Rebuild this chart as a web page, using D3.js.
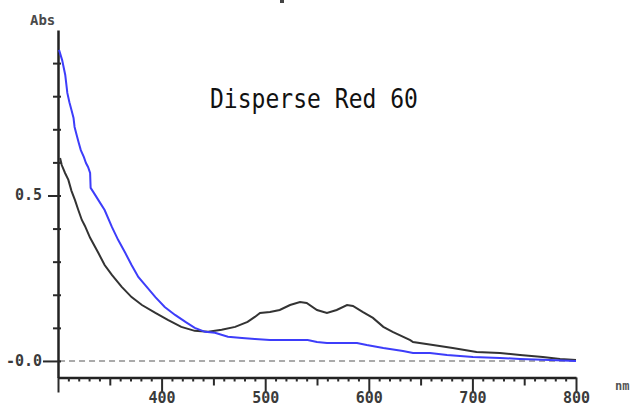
<!DOCTYPE html>
<html>
<head>
<meta charset="utf-8">
<script src="https://cdn.jsdelivr.net/npm/d3@7"></script>
<style>
  html, body { margin: 0; padding: 0; background: #fff; }
  svg { display: block; }
</style>
</head>
<body>
<svg id="chart" width="634" height="407"></svg>
<script>
// Absorption spectra, wavelength (nm) vs absorbance
const blueWavelength = [301, 304, 307, 309, 311, 313, 315, 316, 318, 320, 322, 325, 327, 329, 331, 331.5, 334, 339, 345, 352, 358, 365, 371, 377.5, 384, 394, 403, 413, 423, 432, 442, 451.5, 464, 477.6, 490, 504.6, 541, 550, 559.6, 588.6, 598, 614, 633, 642.7, 659, 675.5, 700.6, 726.6, 746, 775, 800];
const blueAbs = [0.940, 0.909, 0.864, 0.810, 0.782, 0.758, 0.734, 0.707, 0.683, 0.659, 0.637, 0.616, 0.598, 0.586, 0.568, 0.523, 0.511, 0.486, 0.456, 0.405, 0.366, 0.326, 0.290, 0.254, 0.230, 0.193, 0.163, 0.139, 0.118, 0.100, 0.088, 0.085, 0.073, 0.069, 0.066, 0.063, 0.063, 0.057, 0.054, 0.054, 0.048, 0.039, 0.030, 0.024, 0.024, 0.018, 0.012, 0.009, 0.006, 0.003, 0.000];

const blackWavelength = [302, 303.6, 306.8, 310, 313, 316.4, 319.6, 323, 326, 331, 339, 345, 352, 361.5, 371, 381, 394, 406, 419, 432, 445, 458, 471, 483, 490, 495, 504.6, 514, 524, 533.6, 540, 550, 559.6, 569, 579, 584.7, 594, 604, 614, 623, 640, 642.7, 662, 681, 704, 726.6, 746, 768, 784.6, 800];
const blackAbs = [0.613, 0.592, 0.568, 0.547, 0.514, 0.486, 0.456, 0.426, 0.408, 0.372, 0.326, 0.290, 0.260, 0.224, 0.193, 0.169, 0.145, 0.124, 0.103, 0.091, 0.088, 0.094, 0.103, 0.118, 0.133, 0.145, 0.148, 0.154, 0.169, 0.178, 0.175, 0.154, 0.145, 0.154, 0.169, 0.166, 0.148, 0.130, 0.103, 0.088, 0.063, 0.057, 0.048, 0.039, 0.027, 0.024, 0.018, 0.012, 0.006, 0.003];

const xTicks = d3.range(300, 801, 10);
const xTickLabels = [400, 500, 600, 700, 800];
const yTicks = d3.range(0, 10).map(i => i / 10);
const yTickLabels = [{ v: 0, t: "-0.0" }, { v: 0.5, t: "0.5" }];
const title = "Disperse Red 60";

const svg = d3.select("#chart");
const x = d3.scaleLinear().domain([300, 800]).range([58, 576]);
const y = d3.scaleLinear().domain([-0.05, 1.0]).range([377.5, 30]);

const mono = "'DejaVu Sans Mono', 'Liberation Mono', monospace";

// small stray mark at the top edge
svg.append("rect")
  .attr("x", 280).attr("y", 0).attr("width", 4).attr("height", 3)
  .attr("fill", "#444");

// zero baseline (dashed)
svg.append("line")
  .attr("x1", x(301)).attr("x2", x(800))
  .attr("y1", y(0)).attr("y2", y(0))
  .attr("stroke", "#ababab").attr("stroke-width", 2)
  .attr("stroke-dasharray", "6,4");

// x axis
const xAxis = svg.append("g")
  .attr("transform", `translate(0,${y(-0.05)})`)
  .call(d3.axisBottom(x).tickValues(xTicks).tickSizeOuter(0).tickFormat(""));
xAxis.select(".domain").attr("stroke", "#222").attr("stroke-width", 2.5);
xAxis.selectAll(".tick line")
  .attr("stroke", "#2a2a2a").attr("stroke-width", 2)
  .attr("y2", d => d % 100 === 0 ? 15 : (d % 50 === 0 ? 8 : 4));
xAxis.selectAll(".tick")
  .filter(d => xTickLabels.includes(d))
  .append("text")
  .attr("y", 25)
  .attr("text-anchor", "middle")
  .attr("fill", "#3a3a3a")
  .style("font-family", mono).style("font-weight", "bold").style("font-size", "15px")
  .text(d => d);

// y axis
const yAxis = svg.append("g")
  .attr("transform", `translate(${x(300)},0)`)
  .call(d3.axisLeft(y).tickValues(yTicks).tickSizeOuter(0).tickFormat(""));
yAxis.select(".domain").attr("stroke", "#222").attr("stroke-width", 2.5);
yAxis.selectAll(".tick line")
  .attr("stroke", "#2a2a2a").attr("stroke-width", 2)
  .attr("x1", 3)
  .attr("x2", d => d === 0 ? -15 : (d === 0.5 ? -10 : -5));

svg.append("g").selectAll("text")
  .data(yTickLabels)
  .join("text")
  .attr("x", 42)
  .attr("y", d => y(d.v) + 5)
  .attr("text-anchor", "end")
  .attr("fill", "#3a3a3a")
  .style("font-family", mono).style("font-weight", "bold").style("font-size", "15px")
  .text(d => d.t);

// axis titles
svg.append("text")
  .attr("x", 30).attr("y", 25)
  .attr("fill", "#4a4a4a")
  .style("font-family", mono).style("font-weight", "bold").style("font-size", "14px")
  .text("Abs");
svg.append("text")
  .attr("x", 615).attr("y", 390)
  .attr("fill", "#555")
  .style("font-family", mono).style("font-weight", "bold").style("font-size", "12px")
  .text("nm");

// spectra
const line = d3.line().x(d => x(d[0])).y(d => y(d[1]));
svg.append("path")
  .datum(d3.zip(blackWavelength, blackAbs))
  .attr("fill", "none").attr("stroke", "#333").attr("stroke-width", 2)
  .attr("d", line);
svg.append("path")
  .datum(d3.zip(blueWavelength, blueAbs))
  .attr("fill", "none").attr("stroke", "#3d3dfa").attr("stroke-width", 2)
  .attr("d", line);

// title
svg.append("text")
  .attr("x", 210).attr("y", 108)
  .attr("textLength", 208).attr("lengthAdjust", "spacingAndGlyphs")
  .attr("fill", "#111")
  .style("font-family", mono).style("font-size", "27px")
  .text(title);
</script>
</body>
</html>
